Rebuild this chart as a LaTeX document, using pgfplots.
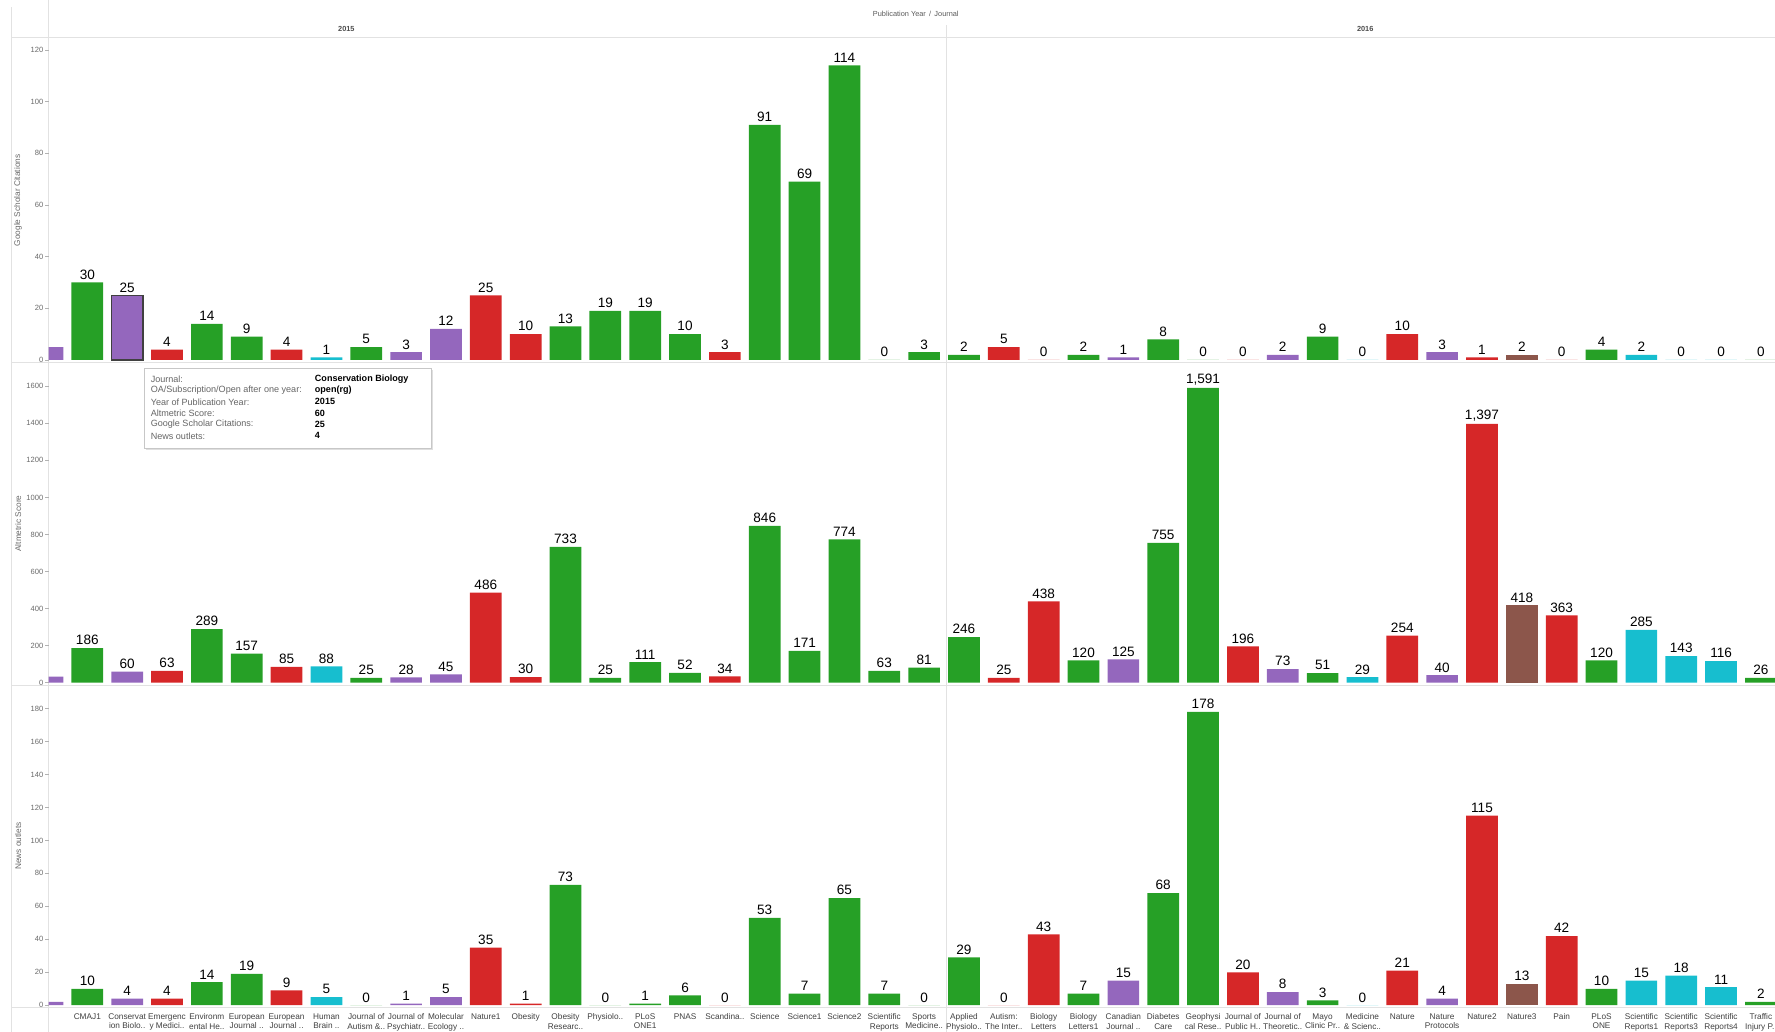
\documentclass[border=0pt]{standalone}
\usepackage{fontspec}
\setmainfont{Liberation Sans}
\usepackage{pgfplots}
\pgfplotsset{compat=1.18}
\usepackage{pgfplotstable}
\usetikzlibrary{shadows}

\definecolor{tgreen}{RGB}{38,160,38}
\definecolor{tred}{RGB}{214,39,40}
\definecolor{tpurple}{RGB}{148,103,189}
\definecolor{tcyan}{RGB}{23,190,207}
\definecolor{tbrown}{RGB}{140,86,75}
\definecolor{linegray}{RGB}{226,226,226}
\definecolor{txtgray}{RGB}{105,105,105}

% idx = position along the row (0..22 = 2015, 23..43 = 2016)
% green journals
\pgfplotstableread{
idx gs alt news
1 30 186 10
4 14 289 14
5 9 157 19
8 5 25 0
13 13 733 73
14 19 25 0
15 19 111 1
16 10 52 6
18 91 846 53
19 69 171 7
20 114 774 65
21 0 63 7
22 3 81 0
23 2 246 29
26 2 120 7
28 8 755 68
29 0 1591 178
32 9 51 3
39 4 120 10
43 0 26 2
}\green
% red journals
\pgfplotstableread{
idx gs alt news
3 4 63 4
6 4 85 9
11 25 486 35
12 10 30 1
17 3 34 0
24 5 25 0
25 0 438 43
30 0 196 20
34 10 254 21
36 1 1397 115
38 0 363 42
}\red
% purple journals
\pgfplotstableread{
idx gs alt news
0 5 32 2
2 25 60 4
9 3 28 1
10 12 45 5
27 1 125 15
31 2 73 8
35 3 40 4
}\purple
% cyan journals
\pgfplotstableread{
idx gs alt news
7 1 88 5
33 0 29 0
40 2 285 15
41 0 143 18
42 0 116 11
}\cyan
% brown journal
\pgfplotstableread{
idx gs alt news
37 2 418 13
}\brown

\pgfplotsset{
  bars/.style={fill=#1, draw=none, bar shift=0pt},
  row/.style={
    ybar, bar width=28pt, bar shift=0pt,
    x=35.2pt, xmin=0.03, xmax=43.5,
    anchor=south west,
    axis line style={draw=none},
    ytick pos=left,
    xtick style={draw=none},
    ytick style={draw=black!30, line width=0.4pt},
    major tick length=3pt,
    tick align=outside,
    yticklabel style={font=\fontsize{6.7}{7}\selectfont, text=txtgray, inner sep=1.5pt},
    /pgf/number format/assume math mode=true,
    /pgf/number format/1000 sep={},
    scaled y ticks=false,
    every axis y label/.style={at={(axis description cs:0,0.5)}, xshift=-27pt, rotate=90,
      anchor=center, font=\fontsize{7.3}{8}\selectfont, text=txtgray},
    nodes near coords={\pgfmathprintnumber[fixed,precision=0,1000 sep={,}]{\pgfplotspointmeta}},
    every node near coord/.append style={font=\fontsize{12}{12}\selectfont, text=black, inner sep=2.5pt},
  },
}

\begin{document}
\begin{tikzpicture}
\useasboundingbox (0,0) rectangle (1568pt,-911.6pt);

% pane lines
\draw[linegray, line width=0.8pt] (10pt,-6pt) -- (10pt,-912pt);
\draw[linegray, line width=0.8pt] (43pt,0pt) -- (43pt,-912pt);
\draw[linegray, line width=0.8pt] (10pt,-33pt) -- (1568pt,-33pt);
\draw[linegray, line width=0.5pt] (10pt,-320pt) -- (1568pt,-320pt);
\draw[linegray, line width=0.5pt] (10pt,-605pt) -- (1568pt,-605pt);
\draw[linegray, line width=0.5pt] (10pt,-890pt) -- (1568pt,-890pt);
\draw[linegray, line width=0.8pt] (836pt,-22pt) -- (836pt,-912pt);

\node[font=\fontsize{6.5}{7}\selectfont, text=black!65] at (809pt,-12pt) {Publication Year \,/\, Journal};
\node[font=\fontsize{6.5}{7}\selectfont\bfseries, text=black!70] at (306pt,-26pt) {2015};
\node[font=\fontsize{6.5}{7}\selectfont\bfseries, text=black!70] at (1206pt,-26pt) {2016};

% Google Scholar Citations
\begin{axis}[row, at={(43pt,-320pt)}, y=2.283pt, ymin=-0.88, ymax=124.4,
  ytick={0,20,...,120}, xtick=\empty, ylabel={Google Scholar Citations}]
\addplot[bars=tgreen] table[x=idx,y=gs]{\green};
\addplot[bars=tred] table[x=idx,y=gs]{\red};
\addplot[bars=tpurple] table[x=idx,y=gs]{\purple};
\addplot[bars=tcyan] table[x=idx,y=gs]{\cyan};
\addplot[bars=tbrown] table[x=idx,y=gs]{\brown};
% selected bar (Conservation Biology)
\addplot[fill=tpurple, draw=black!75, line width=1pt, bar shift=0pt,
  restrict x to domain=1.9:2.1, nodes near coords={}] table[x=idx,y=gs]{\purple};
\end{axis}

% Altmetric Score
\begin{axis}[row, at={(43pt,-605pt)}, y=0.1636pt, ymin=-12.2, ymax=1730,
  ytick={0,200,...,1600}, xtick=\empty, ylabel={Altmetric Score}]
\addplot[bars=tgreen] table[x=idx,y=alt]{\green};
\addplot[bars=tred] table[x=idx,y=alt]{\red};
\addplot[bars=tpurple] table[x=idx,y=alt]{\purple};
\addplot[bars=tcyan] table[x=idx,y=alt]{\cyan};
\addplot[bars=tbrown] table[x=idx,y=alt]{\brown};
\end{axis}

% News outlets
\begin{axis}[row, at={(43pt,-890pt)}, y=1.456pt, ymin=-1.37, ymax=194.4,
  ytick={0,20,...,180}, ylabel={News outlets},
  xtick={0,...,43},
  xticklabels={{},{CMAJ1},{Conservat\\ion Biolo..},{Emergenc\\y Medici..},{Environm\\ental He..},
    {European\\Journal ..},{European\\Journal ..},{Human\\Brain ..},{Journal of\\Autism \&..},
    {Journal of\\Psychiatr..},{Molecular\\Ecology ..},{Nature1},{Obesity},{Obesity\\Researc..},
    {Physiolo..},{PLoS\\ONE1},{PNAS},{Scandina..},{Science},{Science1},{Science2},
    {Scientific\\Reports},{Sports\\Medicine..},{Applied\\Physiolo..},{Autism:\\The Inter..},
    {Biology\\Letters},{Biology\\Letters1},{Canadian\\Journal ..},{Diabetes\\Care},
    {Geophysi\\cal Rese..},{Journal of\\Public H..},{Journal of\\Theoretic..},{Mayo\\Clinic Pr..},
    {Medicine\\\& Scienc..},{Nature},{Nature\\Protocols},{Nature2},{Nature3},{Pain},
    {PLoS\\ONE},{Scientific\\Reports1},{Scientific\\Reports3},{Scientific\\Reports4},
    {Traffic\\Injury P..}},
  xticklabel style={font=\fontsize{7.3}{8.6}\selectfont, text=black!75, align=center,
    anchor=north, inner sep=1pt, yshift=-1pt}]
\addplot[bars=tgreen] table[x=idx,y=news]{\green};
\addplot[bars=tred] table[x=idx,y=news]{\red};
\addplot[bars=tpurple] table[x=idx,y=news]{\purple};
\addplot[bars=tcyan] table[x=idx,y=news]{\cyan};
\addplot[bars=tbrown] table[x=idx,y=news]{\brown};
\end{axis}

% tooltip
\node[draw=black!22, fill=white, line width=0.6pt,
  drop shadow={opacity=0.25, shadow xshift=1.5pt, shadow yshift=-1.5pt},
  minimum width=254pt, minimum height=71pt, anchor=north west, inner sep=0pt]
  at (127pt,-325pt) {};
\begin{scope}[every node/.style={anchor=west, inner sep=0pt, font=\fontsize{8}{9}\selectfont}]
\node[text=black!60] at (133pt,-335pt) {Journal:};
\node[text=black!60] at (133pt,-345pt) {OA/Subscription/Open after one year:};
\node[text=black!60] at (133pt,-355pt) {Year of Publication Year:};
\node[text=black!60] at (133pt,-365pt) {Altmetric Score:};
\node[text=black!60] at (133pt,-375pt) {Google Scholar Citations:};
\node[text=black!60] at (133pt,-385pt) {News outlets:};
\node[font=\fontsize{8}{9}\selectfont\bfseries] at (278pt,-335pt) {Conservation Biology};
\node[font=\fontsize{8}{9}\selectfont\bfseries] at (278pt,-345pt) {open(rg)};
\node[font=\fontsize{8}{9}\selectfont\bfseries] at (278pt,-355pt) {2015};
\node[font=\fontsize{8}{9}\selectfont\bfseries] at (278pt,-365pt) {60};
\node[font=\fontsize{8}{9}\selectfont\bfseries] at (278pt,-375pt) {25};
\node[font=\fontsize{8}{9}\selectfont\bfseries] at (278pt,-385pt) {4};
\end{scope}
\end{tikzpicture}
\end{document}
